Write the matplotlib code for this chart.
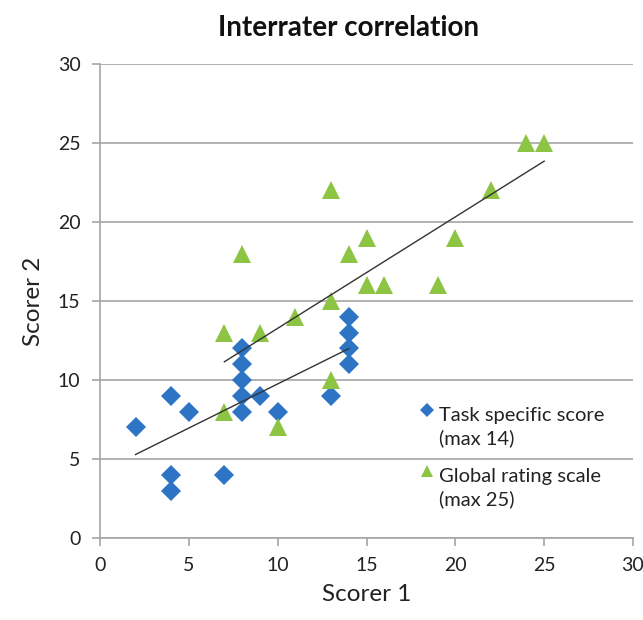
import matplotlib.pyplot as plt
import numpy as np
from matplotlib.legend_handler import HandlerLine2D

plt.rcParams['font.family'] = ['Lato', 'DejaVu Sans']

# task specific score (blue diamonds)
task_x = [2, 4, 4, 4, 5, 7, 8, 8, 8, 8, 8, 9, 10, 13, 14, 14, 14, 14]
task_y = [7, 9, 4, 3, 8, 4, 12, 11, 10, 9, 8, 9, 8, 9, 14, 13, 12, 11]

# global rating scale (green triangles)
glob_x = [7, 7, 8, 9, 10, 11, 13, 13, 13, 14, 15, 15, 16, 19, 20, 22, 24, 25]
glob_y = [13, 8, 18, 13, 7, 14, 22, 15, 10, 18, 19, 16, 16, 16, 19, 22, 25, 25]

blue = '#2E74C4'
green = '#8DC444'
grey = '#A6A6A6'
txt = '#222222'
LS = 1.4  # line spacing of the two-line legend labels


class TopLineHandler(HandlerLine2D):
    # put the legend marker next to the first line of a two-line label
    def create_artists(self, legend, orig_handle, xdescent, ydescent, width, height, fontsize, trans):
        arts = super().create_artists(legend, orig_handle, xdescent, ydescent, width, height, fontsize, trans)
        for a in arts:
            a.set_ydata(np.asarray(a.get_ydata()) + 0.5 * LS * 1.2 * fontsize)
        return arts


fig = plt.figure(figsize=(6.43, 6.2), dpi=100)
ax = fig.add_axes([100 / 643, 1 - 538 / 620, 533 / 643, 474 / 620])

h1, = ax.plot(task_x, task_y, 'D', color=blue, markersize=10.5, markeredgewidth=0,
              label='Task specific score\n(max 14)', zorder=3)
h2, = ax.plot(glob_x, glob_y, '^', color=green, markersize=13, markeredgewidth=0,
              label='Global rating scale\n(max 25)', zorder=3)

# linear trendlines
for xs, ys in [(task_x, task_y), (glob_x, glob_y)]:
    k, b = np.polyfit(xs, ys, 1)
    xx = np.array([min(xs), max(xs)])
    ax.plot(xx, k * xx + b, color='#333333', lw=1, zorder=4)

ax.set_xlim(0, 30)
ax.set_ylim(0, 30)
ax.set_xticks(range(0, 31, 5))
ax.set_yticks(range(0, 31, 5))
ax.yaxis.grid(True, color=grey, lw=1.2)
ax.set_axisbelow(True)
for s in ['top', 'right']:
    ax.spines[s].set_visible(False)
for s in ['left', 'bottom']:
    ax.spines[s].set_color(grey)
    ax.spines[s].set_linewidth(1.2)
ax.tick_params(colors=grey, labelcolor=txt, labelsize=14, length=6, width=1.2, pad=8)

ax.set_xlabel('Scorer 1', fontsize=17.5, color=txt, labelpad=7)
ax.set_ylabel('Scorer 2', fontsize=17.5, color=txt, labelpad=10)
fig.text(348 / 643, 1 - 28 / 620, 'Interrater correlation', fontsize=20, fontweight='bold',
         ha='center', va='center', color='#111111')

leg = ax.legend(handles=[h1, h2], loc='upper left', bbox_to_anchor=(0.6, 0.277), frameon=False,
                fontsize=14.5, handlelength=0.7, handletextpad=0.25, markerscale=0.7,
                labelspacing=1.0, borderpad=0, borderaxespad=0,
                handler_map={h1: TopLineHandler(), h2: TopLineHandler()})
for t in leg.get_texts():
    t.set_color(txt)
    t.set_linespacing(LS)

fig.savefig('out.png', dpi=100)
